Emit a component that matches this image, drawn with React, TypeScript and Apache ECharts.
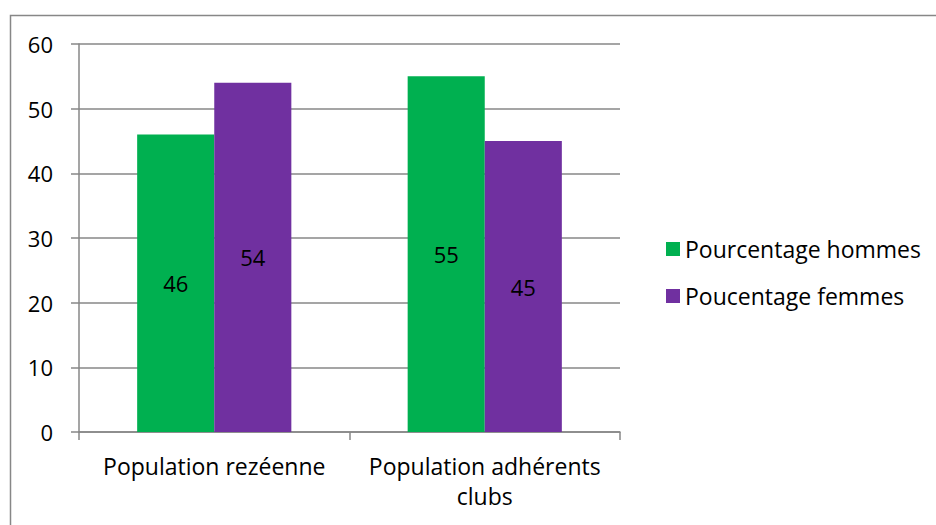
import React, { useEffect, useRef } from "react";
import * as echarts from "echarts";

const categories = ["Population rezéenne", "Population adhérents\nclubs"];
const hommes = [46, 55];
const femmes = [54, 45];
const seriesNames = ["Pourcentage hommes", "Poucentage femmes"];
const yTicks = { min: 0, max: 60, interval: 10 };

const FONT = "'Open Sans', 'Noto Sans', sans-serif";
const FS = 23;

export default function App() {
  const ref = useRef<HTMLDivElement>(null);
  useEffect(() => {
    if (!ref.current) return;
    const chart = echarts.init(ref.current, undefined, { renderer: "svg" });
    const labelStyle = {
      show: true,
      position: "inside" as const,
      color: "#000",
      fontSize: 22,
      fontFamily: FONT,
    };
    chart.setOption({
      animation: false,
      backgroundColor: "#fff",
      textStyle: { fontFamily: FONT },
      graphic: [
        {
          type: "rect",
          shape: { x: 10.5, y: 15.5, width: 940, height: 520 },
          style: { fill: "none", stroke: "#878787", lineWidth: 1.5 },
          silent: true,
          z: -1,
        },
      ],
      grid: { left: 79, right: 316, top: 44, bottom: 93, containLabel: false },
      legend: {
        orient: "vertical",
        left: 661,
        top: 232,
        itemWidth: 14,
        itemHeight: 14,
        itemGap: 23,
        icon: "rect",
        textStyle: { fontSize: FS, lineHeight: 24, color: "#000", fontFamily: FONT },
        data: seriesNames,
      },
      xAxis: {
        type: "category",
        data: categories,
        axisLine: { lineStyle: { color: "#878787", width: 1.5 } },
        axisTick: { show: true, length: 8, lineStyle: { color: "#878787", width: 1.5 } },
        axisLabel: {
          fontSize: FS,
          color: "#000",
          fontFamily: FONT,
          margin: 19,
          lineHeight: 30,
          interval: 0,
        },
      },
      yAxis: {
        type: "value",
        min: yTicks.min,
        max: yTicks.max,
        interval: yTicks.interval,
        axisLine: { show: true, lineStyle: { color: "#878787", width: 1.5 } },
        axisTick: { show: true, length: 8, lineStyle: { color: "#878787", width: 1.5 } },
        splitLine: { lineStyle: { color: "#878787", width: 1.5 } },
        axisLabel: { fontSize: 22, color: "#000", fontFamily: FONT, margin: 26 },
      },
      series: [
        {
          name: seriesNames[0],
          type: "bar",
          data: hommes,
          itemStyle: { color: "#00B050" },
          barGap: "0%",
          barCategoryGap: "43%",
          label: labelStyle,
        },
        {
          name: seriesNames[1],
          type: "bar",
          data: femmes,
          itemStyle: { color: "#7030A0" },
          barGap: "0%",
          barCategoryGap: "43%",
          label: labelStyle,
        },
      ],
    });
    return () => chart.dispose();
  }, []);
  return (
    <div
      ref={ref}
      style={{ position: "fixed", left: 0, top: 0, width: 936, height: 525 }}
    />
  );
}
